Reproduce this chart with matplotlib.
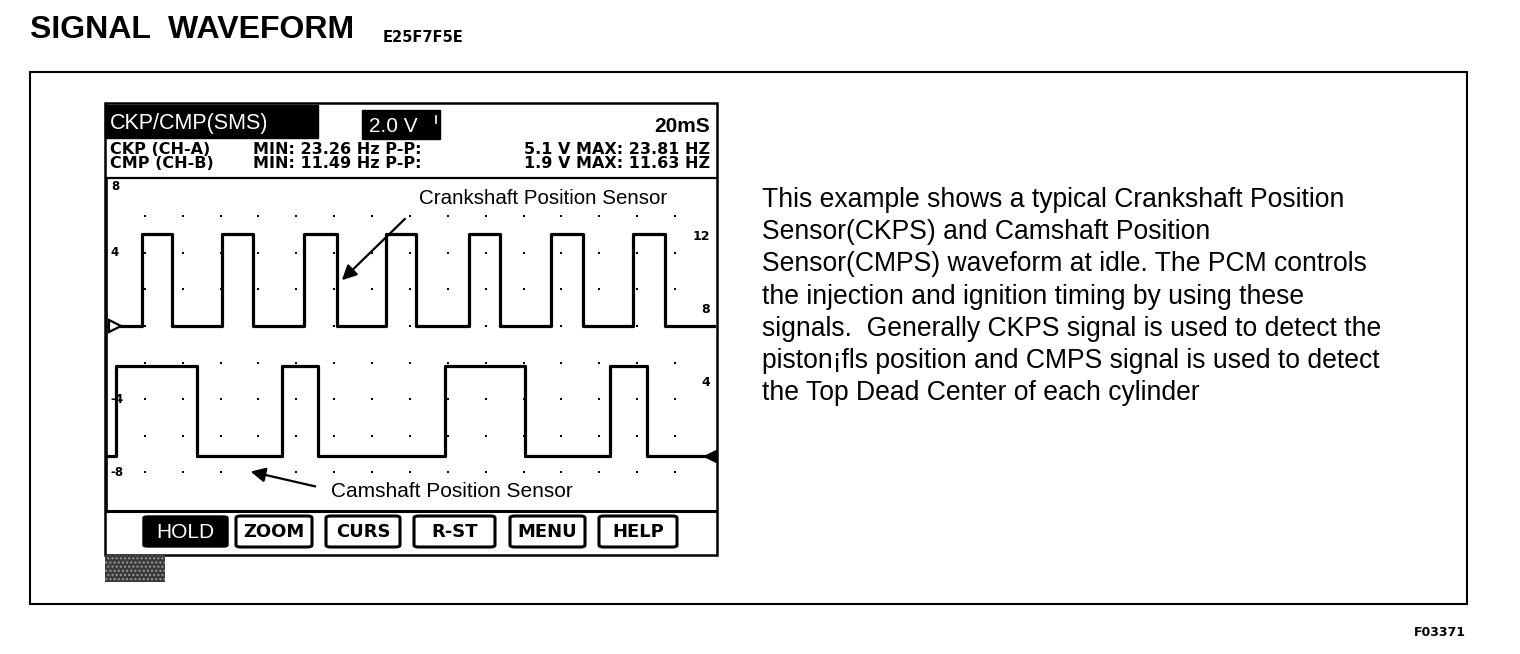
import matplotlib
matplotlib.use("Agg")
import matplotlib.pyplot as plt
from matplotlib.patches import Rectangle, FancyBboxPatch
import numpy as np

# ---------------- data ----------------
time_span_ms = 160.8
ckp_edges_ms = [9.2, 17.2, 30.4, 38.5, 52.0, 60.7, 73.7, 81.6, 95.6, 103.8,
                117.2, 125.7, 138.9, 147.3]
ckp_levels = [0.0, 5.0]          # low / high (left scale, V)
cmp_edges_ms = [2.4, 23.8, 46.2, 55.7, 89.2, 110.4, 132.8, 142.6]
cmp_levels = [0.0, 4.9]          # low / high (right scale, V)

left_ticks = [8, 4, -4, -8]
left_tick_labels = ["8", "4", "-4", "-8"]
right_ticks = [12, 8, 4]
right_tick_labels = ["12", "8", "4"]
grid_x_ms = [10, 20, 30, 40, 50, 60, 70, 80, 90, 100, 110, 120, 130, 140, 150]
grid_y_v = [6, 4, 2, 0, -2, -4, -6, -8]

title = "SIGNAL  WAVEFORM"
title_code = "E25F7F5E"
figure_code = "F03371"
screen_title = "CKP/CMP(SMS)"
volt_div = "2.0 V"
time_div = "20mS"
ch_names = ["CKP (CH-A)", "CMP (CH-B)"]
ch_min = ["MIN: 23.26 Hz P-P:", "MIN: 11.49 Hz P-P:"]
ch_max = ["5.1 V MAX: 23.81 HZ", "1.9 V MAX: 11.63 HZ"]
buttons = ["HOLD", "ZOOM", "CURS", "R-ST", "MENU", "HELP"]
crank_label = "Crankshaft Position Sensor"
cam_label = "Camshaft Position Sensor"
paragraph = [
    "This example shows a typical Crankshaft Position",
    "Sensor(CKPS) and Camshaft Position",
    "Sensor(CMPS) waveform at idle. The PCM controls",
    "the injection and ignition timing by using these",
    "signals.  Generally CKPS signal is used to detect the",
    "piston\u00a1fls position and CMPS signal is used to detect",
    "the Top Dead Center of each cylinder",
]

# ---------------- layout helpers ----------------
W, H = 1520, 654
def fx(x): return x / W
def fy(y): return 1 - y / H

fig = plt.figure(figsize=(W / 100, H / 100), dpi=100)
fig.patch.set_facecolor("white")
SANS = ["Liberation Sans", "DejaVu Sans"]
BOLD = ["DejaVu Sans"]

def step_series(edges, levels):
    t = [0.0] + list(edges) + [time_span_ms]
    y = [levels[i % 2] for i in range(len(edges) + 1)]
    y.append(y[-1])
    return t, y

# outer frame
fig.add_artist(Rectangle((fx(30), fy(604)), (1467 - 30) / W, (604 - 72) / H,
                         fill=False, lw=1.5, ec="black", transform=fig.transFigure))
# screen frame
fig.add_artist(Rectangle((fx(105), fy(555)), (717 - 105) / W, (555 - 103) / H,
                         fill=False, lw=1.8, ec="black", transform=fig.transFigure))

# title
fig.text(fx(30), fy(30), title, family=SANS, weight="bold", fontsize=23, va="center", ha="left")
fig.text(fx(383), fy(37), title_code, family=BOLD, weight="bold", fontsize=10.5, va="center", ha="left")
fig.text(fx(1466), fy(632), figure_code, family=BOLD, weight="bold", fontsize=9, va="center", ha="right")

# header
fig.add_artist(Rectangle((fx(105), fy(138)), (318 - 105) / W, (138 - 105) / H,
                         fc="black", ec="black", transform=fig.transFigure))
fig.text(fx(110), fy(123), screen_title, family=SANS, fontsize=15.5, color="white", va="center")
fig.add_artist(Rectangle((fx(362), fy(139)), (440 - 362) / W, (139 - 110) / H,
                         fc="black", ec="black", transform=fig.transFigure))
fig.text(fx(369), fy(126), volt_div, family=SANS, fontsize=15, color="white", va="center")
fig.add_artist(plt.Line2D([fx(436), fx(436)], [fy(116), fy(123)], color="white", lw=1.2,
                          transform=fig.transFigure))
fig.text(fx(710), fy(127), time_div, family=SANS, weight="bold", fontsize=15, va="center", ha="right")
for i, yy in enumerate([150, 164]):
    fig.text(fx(110), fy(yy), ch_names[i], family=BOLD, weight="bold", fontsize=11.5, va="center")
    fig.text(fx(253), fy(yy), ch_min[i], family=BOLD, weight="bold", fontsize=11.5, va="center")
    fig.text(fx(710), fy(yy), ch_max[i], family=BOLD, weight="bold", fontsize=11.5, va="center", ha="right")

# ---------------- waveform axes ----------------
px_per_v = 18.3
zero_left_px, zero_right_px = 326, 456
ax = fig.add_axes([fx(107), fy(511), (716 - 107) / W, (511 - 178) / H])
ylo = -(511 - zero_left_px) / px_per_v
yhi = (zero_left_px - 178) / px_per_v
ax.set_xlim(0, time_span_ms)
ax.set_ylim(ylo, yhi)
off = (zero_right_px - zero_left_px) / px_per_v
ax2 = ax.twinx()
ax2.set_ylim(ylo + off, yhi + off)
for a in (ax, ax2):
    a.set_xticks([]); a.set_yticks([])
    a.patch.set_alpha(0)
for s in ax2.spines.values():
    s.set_visible(False)
ax.spines["right"].set_visible(False)
ax.spines["top"].set_linewidth(1.6)
ax.spines["bottom"].set_linewidth(2.2)
ax.spines["left"].set_linewidth(1.2)

gx, gy = np.meshgrid(grid_x_ms, grid_y_v)
ax.scatter(gx.ravel(), gy.ravel(), s=3, color="black", marker="s", lw=0)

t, y = step_series(ckp_edges_ms, ckp_levels)
ax.step(t, y, where="post", color="black", lw=2.3)
t, y = step_series(cmp_edges_ms, cmp_levels)
ax2.step(t, y, where="post", color="black", lw=2.3)

ax.plot([2.0], [0], marker=">", ms=9, mfc="white", mec="black", mew=1.6, clip_on=False)
ax2.plot([time_span_ms - 1.6], [0], marker="<", ms=9, color="black", clip_on=False)

for v, lab in zip(left_ticks, left_tick_labels):
    ax.text(1.0, v, lab, family=BOLD, weight="bold", fontsize=8.5, ha="left",
            va="top" if v == max(left_ticks) else "center")
for v, lab in zip(right_ticks, right_tick_labels):
    ax2.text(time_span_ms - 1.5, v, lab, family=BOLD, weight="bold", fontsize=9,
             ha="right", va="center")

# annotations
ax.annotate("", xy=(61.5, 2.4), xytext=(79.2, 5.96),
            arrowprops=dict(arrowstyle="-|>", color="black", lw=1.6, mutation_scale=22))
ax.text(82.4, 6.94, crank_label, family=SANS, fontsize=14.8, ha="left", va="center")
ax.annotate("", xy=(37.2, -7.92), xytext=(55.7, -8.8),
            arrowprops=dict(arrowstyle="-|>", color="black", lw=1.6, mutation_scale=22))
ax.text(59.1, -9.07, cam_label, family=SANS, fontsize=15, ha="left", va="center")

# ---------------- button bar ----------------
btn_x = [(143, 228), (236, 312), (326, 400), (414, 495), (510, 585), (599, 677)]
for (x0, x1), lab in zip(btn_x, buttons):
    hold = lab == "HOLD"
    fig.add_artist(FancyBboxPatch((fx(x0), fy(547)), (x1 - x0) / W, (547 - 516) / H,
                                  boxstyle="round,pad=0,rounding_size=0.003",
                                  fc="black" if hold else "white", ec="black",
                                  lw=1.0 if hold else 2.2, transform=fig.transFigure))
    if hold:
        fig.text(fx((x0 + x1) / 2), fy(532), lab, family=SANS, fontsize=15, color="white",
                 ha="center", va="center")
    else:
        fig.text(fx((x0 + x1) / 2), fy(532), lab, family=BOLD, weight="bold", fontsize=13,
                 ha="center", va="center")
fig.add_artist(Rectangle((fx(105), fy(582)), 60 / W, 27 / H, fc="#3a3a3a", ec="#9a9a9a",
                         lw=0, hatch="....", transform=fig.transFigure))

# ---------------- paragraph ----------------
for i, line in enumerate(paragraph):
    fig.text(fx(762), fy(200 + i * 32.2), line, family=SANS, fontsize=19.1,
             ha="left", va="center")

fig.savefig("out.png", dpi=100)
